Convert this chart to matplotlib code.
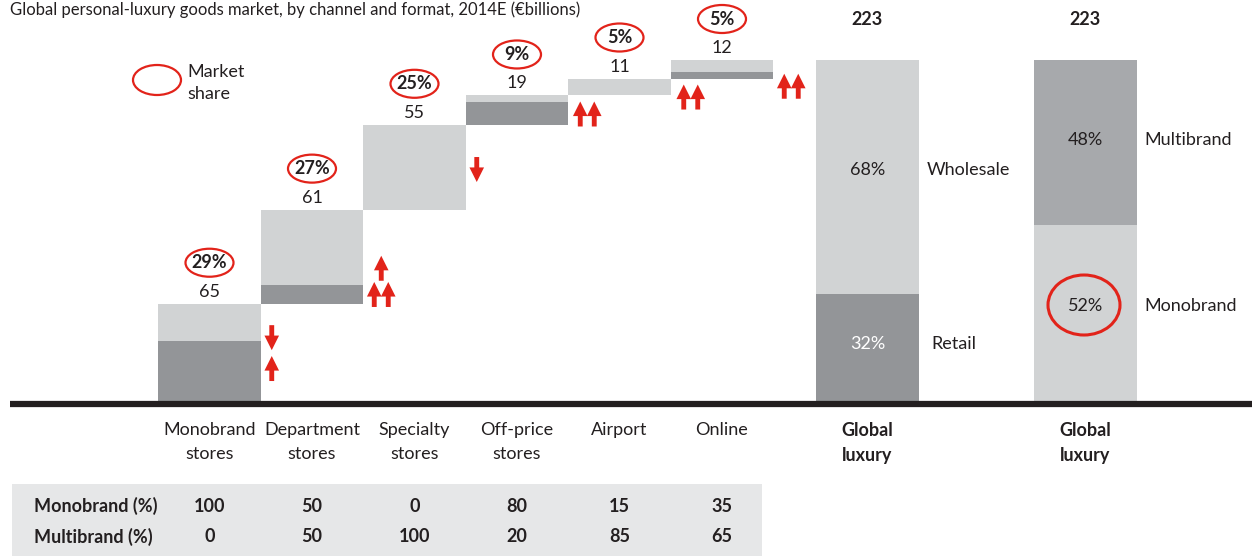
import numpy as np
import matplotlib
matplotlib.use("Agg")
import matplotlib.pyplot as plt
from matplotlib.patches import Ellipse, Rectangle

plt.rcParams["font.family"] = ["Lato", "DejaVu Sans"]

# ---------------------------------------------------------------------------
# data
# ---------------------------------------------------------------------------
channels = ["Monobrand\nstores", "Department\nstores", "Specialty\nstores",
            "Off-price\nstores", "Airport", "Online"]
totals = np.array([65, 61, 55, 19, 11, 12])
retail = np.array([41, 12, 0, 15, 0, 4])
wholesale = totals - retail
share = [29, 27, 25, 9, 5, 5]

# trend arrows next to each channel: (count, direction, level in EUR bn)
trends = [
    [(1, "down", 43), (1, "up", 23)],
    [(1, "up", 88), (2, "up", 71)],
    [(1, "down", 152)],
    [(2, "up", 188)],
    [(2, "up", 199)],
    [(2, "up", 206)],
]

global_total = 223
format_pct = [32, 68]          # retail, wholesale
format_names = ["Retail", "Wholesale"]
brand_pct = [52, 48]           # monobrand, multibrand
brand_names = ["Monobrand", "Multibrand"]

table_rows = ["Monobrand (%)", "Multibrand (%)"]
mono_pct = [100, 50, 0, 80, 15, 35]
multi_pct = [0, 50, 100, 20, 85, 65]

# ---------------------------------------------------------------------------
# style
# ---------------------------------------------------------------------------
LIGHT = "#d1d3d4"
DARK = "#939598"
MID = "#a7a9ac"
RED = "#e2231a"
TXT = "#231f20"
TABLE_BG = "#e6e7e8"

W, H = 1252, 556
PX_X = 102.5          # pixels per bar slot
PX_Y = 344 / 223      # pixels per EUR bn
X0, Y0 = 209.5, 404   # pixel of first bar centre / baseline


def px(x):
    return (x - X0) / PX_X


def py(y):
    return (Y0 - y) / PX_Y


fig = plt.figure(figsize=(W / 100, H / 100), dpi=100)
ax = fig.add_axes([0, 0, 1, 1])
ax.set_xlim(px(0), px(W))
ax.set_ylim(py(H), py(0))
ax.axis("off")

FS = 13

# title
ax.text(px(10), py(1), "Global personal-luxury goods market, by channel and format, "
        "2014E (\u20acbillions)", fontsize=12, color=TXT, va="top", ha="left")

# ---------------------------------------------------------------------------
# waterfall
# ---------------------------------------------------------------------------
xs = np.arange(len(channels))
bottoms = np.concatenate([[0], np.cumsum(totals)[:-1]])
ax.bar(xs, retail, bottom=bottoms, width=1.0, color=DARK, linewidth=0)
ax.bar(xs, wholesale, bottom=bottoms + retail, width=1.0, color=LIGHT, linewidth=0)

tops = bottoms + totals
ell_w, ell_h = 48 / PX_X, 28 / PX_Y
for x, top, val, s in zip(xs, tops, totals, share):
    ax.text(x, top + 12 / PX_Y, f"{val}", ha="center", va="center",
            fontsize=FS, color=TXT)
    ax.text(x, top + 41 / PX_Y, f"{s}%", ha="center", va="center",
            fontsize=FS, color=TXT, fontweight="bold")
    ax.add_patch(Ellipse((x, top + 41 / PX_Y), ell_w, ell_h, fill=False,
                         edgecolor=RED, linewidth=1.6))

# arrows
arrow_off = [11, 18, 11, 19, 20, 18]
alen = 25 / PX_Y
for x, off, items in zip(xs, arrow_off, trends):
    cx = x + 0.5 + off / PX_X
    for count, direction, level in items:
        offs = [0] if count == 1 else [-7 / PX_X, 7 / PX_X]
        for d in offs:
            if direction == "up":
                tail, head = level - alen / 2, level + alen / 2
            else:
                tail, head = level + alen / 2, level - alen / 2
            ax.annotate("", xy=(cx + d, head), xytext=(cx + d, tail),
                        arrowprops=dict(arrowstyle="simple,head_width=0.75,"
                                        "head_length=0.75,tail_width=0.25",
                                        color=RED, shrinkA=0, shrinkB=0,
                                        mutation_scale=14, linewidth=0))

# market share legend
ax.add_patch(Ellipse((px(157), py(80)), ell_w, 30 / PX_Y, fill=False,
                     edgecolor=RED, linewidth=1.6))
ax.text(px(187), py(72), "Market", ha="left", va="center", fontsize=FS, color=TXT)
ax.text(px(187), py(94), "share", ha="left", va="center", fontsize=FS, color=TXT)

# ---------------------------------------------------------------------------
# global luxury bars
# ---------------------------------------------------------------------------
g1, g2 = px(867.5), px(1085.5)
fmt_vals = [global_total * p / 100 for p in format_pct]
brand_vals = [global_total * p / 100 for p in brand_pct]

ax.bar(g1, fmt_vals[0], width=1.0, color=DARK, linewidth=0)
ax.bar(g1, fmt_vals[1], bottom=fmt_vals[0], width=1.0, color=LIGHT, linewidth=0)
ax.bar(g2, brand_vals[0], width=1.0, color=LIGHT, linewidth=0)
ax.bar(g2, brand_vals[1], bottom=brand_vals[0], width=1.0, color=MID, linewidth=0)

for gx in (g1, g2):
    ax.text(gx, global_total + 41 / PX_Y, f"{global_total}", ha="center",
            va="center", fontsize=FS, color=TXT, fontweight="bold")

# segment labels
retail_y = py(344)
whole_y = py(170)
ax.text(g1, retail_y, f"{format_pct[0]}%", ha="center", va="center",
        fontsize=FS, color="white")
ax.text(g1 + 0.5 + 13 / PX_X, retail_y, format_names[0], ha="left",
        va="center", fontsize=FS, color=TXT)
ax.text(g1, whole_y, f"{format_pct[1]}%", ha="center", va="center",
        fontsize=FS, color=TXT)
ax.text(g1 + 0.5 + 8 / PX_X, whole_y, format_names[1],
        ha="left", va="center", fontsize=FS, color=TXT)

mono_y = py(306)
multi_y = py(140)
ax.text(g2, mono_y, f"{brand_pct[0]}%", ha="center", va="center",
        fontsize=FS, color=TXT)
ax.add_patch(Ellipse((px(1084), py(305)), 72 / PX_X, 60 / PX_Y, fill=False,
                     edgecolor=RED, linewidth=2.2))
ax.text(g2 + 0.5 + 8 / PX_X, mono_y, brand_names[0], ha="left", va="center",
        fontsize=FS, color=TXT)
ax.text(g2, multi_y, f"{brand_pct[1]}%", ha="center", va="center",
        fontsize=FS, color=TXT)
ax.text(g2 + 0.5 + 8 / PX_X, multi_y, brand_names[1], ha="left", va="center",
        fontsize=FS, color=TXT)

# baseline
ax.plot([px(10), px(W)], [0, 0], color=TXT, linewidth=4.5,
        solid_capstyle="butt", zorder=5)

# ---------------------------------------------------------------------------
# category labels and table
# ---------------------------------------------------------------------------
for x, name in zip(xs, channels):
    ax.text(x, py(422), name, ha="center", va="top", fontsize=FS, color=TXT,
            linespacing=1.6)
for gx in (g1, g2):
    ax.text(gx, py(422), "Global\nluxury", ha="center", va="top", fontsize=FS,
            color=TXT, fontweight="bold", linespacing=1.6)

ax.add_patch(Rectangle((px(12), py(H)), px(762) - px(12), py(484) - py(H),
                       facecolor=TABLE_BG, edgecolor="none", zorder=0))
for label, vals, ypix in zip(table_rows, [mono_pct, multi_pct], [506, 537]):
    ax.text(px(34), py(ypix), label, ha="left", va="center", fontsize=FS,
            color=TXT, fontweight="bold")
    for x, v in zip(xs, vals):
        ax.text(x, py(ypix), f"{v}", ha="center", va="center", fontsize=FS,
                color=TXT, fontweight="bold")

fig.savefig("out.png", dpi=100)
